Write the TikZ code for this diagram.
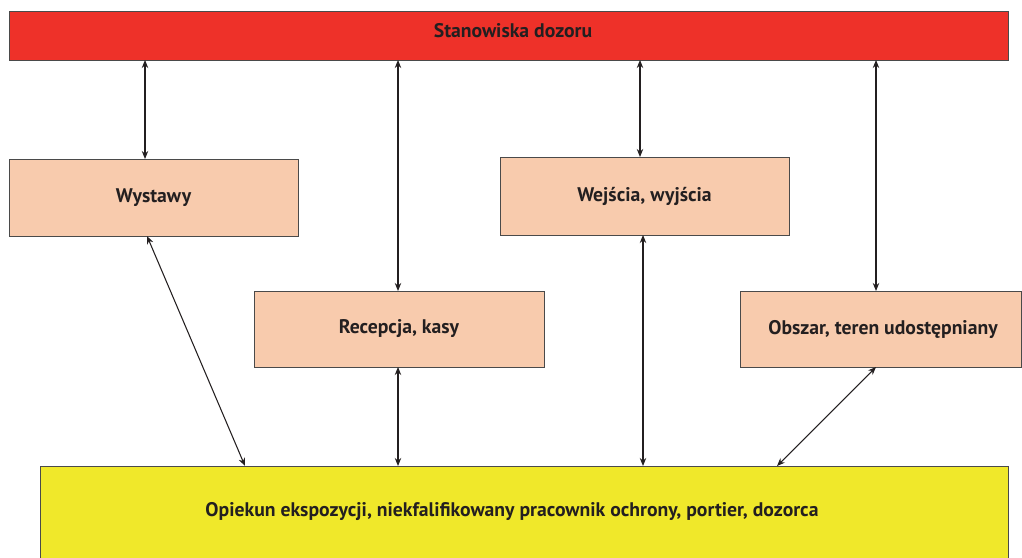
\documentclass[tikz,border=0pt]{standalone}
\usepackage{fontspec}
\setmainfont{PT Sans}
\usetikzlibrary{arrows.meta}
\definecolor{barred}{HTML}{EE3129}
\definecolor{peach}{HTML}{F8CBAD}
\definecolor{lemon}{HTML}{F0E82A}
\definecolor{edge}{HTML}{4A4A4A}
\definecolor{ink}{HTML}{231F20}
\newcommand\pxu{0.025cm}
\tikzset{
  label/.style={font=\fontsize{14}{16}\selectfont\bfseries, text=ink},
  panel/.style={draw=edge, line width=0.7pt, inner sep=0pt, outer sep=0pt, label},
  link/.style={draw=ink, line width=0.75pt, {Stealth[length=2mm,width=1.6mm]}-{Stealth[length=2mm,width=1.6mm]}}
}
\begin{document}
\begin{tikzpicture}[x=\pxu, y=-\pxu]
\useasboundingbox (0,0) rectangle (1022,558);
\clip (0,0) rectangle (1022,558);

% boxes
\node[panel, fill=barred, minimum width=999*\pxu, minimum height=49*\pxu] (top) at (508.5,35.5) {};
\node[label] (toptext) at (513,31) {Stanowiska dozoru};

\node[panel, fill=peach, minimum width=289*\pxu, minimum height=77*\pxu] (wyst) at (153.5,197.5) {Wystawy};
\node[panel, fill=peach, minimum width=289*\pxu, minimum height=78*\pxu] (wej) at (644.5,196) {Wejścia, wyjścia};
\node[panel, fill=peach, minimum width=290*\pxu, minimum height=76*\pxu] (rec) at (399,329) {Recepcja, kasy};
\node[panel, fill=peach, minimum width=281*\pxu, minimum height=76*\pxu] (obsz) at (880.5,329) {};
\node[label] (obsztext) at (883,329) {Obszar, teren udostępniany};

\node[panel, fill=lemon, minimum width=968*\pxu, minimum height=94*\pxu] (guard) at (524,513) {};
\node[label] (guardtext) at (512,512) {Opiekun ekspozycji, niekfalifikowany pracownik ochrony, portier, dozorca};

% connectors to the supervision bar
\draw[link] (top.south -| 145,0) -- (wyst.north -| 145,0);
\draw[link] (top.south -| 398,0) -- (rec.north -| 398,0);
\draw[link] (top.south -| 640,0) -- (wej.north -| 640,0);
\draw[link] (top.south -| 876,0) -- (obsz.north -| 876,0);

% connectors to the staff box
\draw[link] (wyst.south -| 147,0) -- (guard.north -| 245,0);
\draw[link] (rec.south -| 398,0) -- (guard.north -| 398,0);
\draw[link] (wej.south -| 643,0) -- (guard.north -| 643,0);
\draw[link] (obsz.south -| 876,0) -- (guard.north -| 777,0);
\end{tikzpicture}
\end{document}
